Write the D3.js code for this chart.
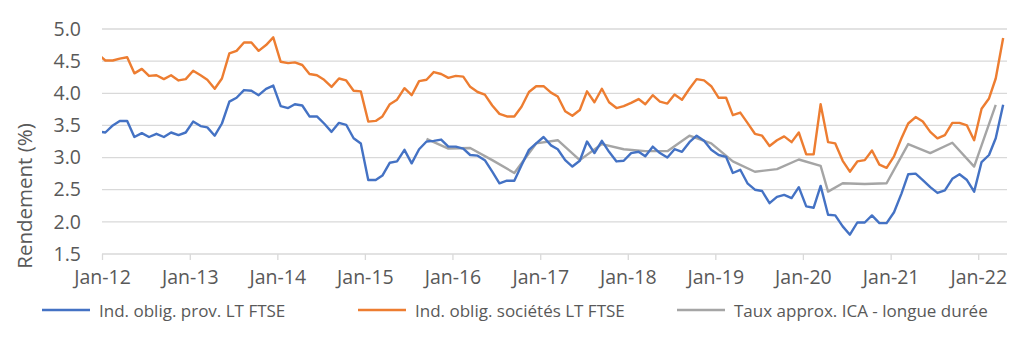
<!DOCTYPE html>
<html><head><meta charset="utf-8">
<script src="https://cdn.jsdelivr.net/npm/d3@7/dist/d3.min.js"></script>
<style>
html,body{margin:0;padding:0;background:#fff;}
text{font-family:"Open Sans","Noto Sans",sans-serif;fill:#595959;}
</style></head>
<body><svg id="c" width="1034" height="343"></svg>
<script>
// Monthly series, Dec-2011 .. Apr-2022 (first point sits just left of the axis start and is clipped)
const firstMonth = "2011-12", lastMonth = "2022-04";
const provLT = [3.41,
 3.39,3.50,3.57,3.57,3.32,3.38,3.32,3.37,3.32,3.39,3.35,3.39,
 3.56,3.49,3.47,3.34,3.53,3.87,3.93,4.05,4.04,3.97,4.07,4.12,
 3.80,3.77,3.83,3.81,3.64,3.64,3.53,3.40,3.54,3.51,3.30,3.22,
 2.65,2.65,2.72,2.92,2.94,3.12,2.91,3.13,3.25,3.26,3.28,3.17,
 3.17,3.14,3.04,3.03,2.96,2.78,2.60,2.64,2.64,2.88,3.12,3.22,
 3.32,3.19,3.13,2.96,2.86,2.95,3.25,3.07,3.26,3.09,2.94,2.95,
 3.07,3.09,3.02,3.17,3.07,3.00,3.13,3.09,3.24,3.34,3.26,3.12,
 3.04,3.01,2.76,2.81,2.60,2.50,2.48,2.29,2.39,2.42,2.37,2.54,
 2.24,2.22,2.56,2.11,2.10,1.93,1.80,1.99,1.99,2.10,1.98,1.98,
 2.15,2.44,2.74,2.75,2.65,2.54,2.45,2.49,2.67,2.74,2.65,2.47,
 2.93,3.04,3.30,3.82];
const corpLT = [4.61,
 4.51,4.51,4.54,4.56,4.31,4.38,4.27,4.28,4.22,4.28,4.20,4.22,
 4.35,4.28,4.21,4.07,4.23,4.62,4.66,4.79,4.79,4.66,4.75,4.87,
 4.49,4.47,4.48,4.44,4.30,4.28,4.21,4.10,4.23,4.20,4.04,4.03,
 3.56,3.57,3.64,3.83,3.90,4.08,3.97,4.19,4.21,4.33,4.30,4.24,
 4.27,4.26,4.10,4.02,3.98,3.81,3.68,3.64,3.64,3.79,4.02,4.11,
 4.11,4.01,3.95,3.72,3.65,3.74,4.03,3.86,4.07,3.86,3.77,3.80,
 3.85,3.91,3.83,3.97,3.87,3.84,3.98,3.90,4.07,4.22,4.20,4.11,
 3.93,3.93,3.66,3.70,3.54,3.37,3.34,3.18,3.27,3.33,3.24,3.39,
 3.05,3.05,3.83,3.24,3.22,2.95,2.78,2.94,2.96,3.11,2.89,2.84,
 3.02,3.30,3.53,3.63,3.56,3.40,3.30,3.35,3.54,3.54,3.50,3.27,
 3.76,3.92,4.23,4.86];
// ICA approximate long-duration rate (sparse dates)
const icaDates = ["2015-09","2015-12","2016-03","2016-06","2016-09","2016-12",
 "2017-03","2017-06","2017-09","2017-12","2018-03","2018-06","2018-09","2018-12",
 "2019-03","2019-06","2019-09","2019-12","2020-03","2020-04","2020-06","2020-09",
 "2020-12","2021-03","2021-06","2021-09","2021-12","2022-03"];
const icaRate = [3.29,3.14,3.15,2.96,2.76,3.22,3.27,2.96,3.21,3.13,3.10,3.10,3.34,3.22,
 2.94,2.78,2.82,2.97,2.87,2.47,2.60,2.59,2.60,3.21,3.07,3.23,2.86,3.82];
const yTicks = [1.5,2.0,2.5,3.0,3.5,4.0,4.5,5.0];
const seriesNames = ["Ind. oblig. prov. LT FTSE","Ind. oblig. sociétés LT FTSE","Taux approx. ICA - longue durée"];
const colors = ["#4472C4","#ED7D31","#A5A5A5"];
const yTitle = "Rendement (%)";

const FONT = '"Open Sans","Noto Sans",sans-serif';
const parseM = d3.timeParse("%Y-%m");
const mid = d => d3.timeDay.offset(parseM(d), 14);
const months = d3.timeMonth.range(parseM(firstMonth), d3.timeMonth.offset(parseM(lastMonth),1));
const svg = d3.select("#c");
const L = 102, R = 1007, T = 29, B = 254;
const x = d3.scaleTime().domain([parseM("2012-01"), parseM("2022-05")]).range([L, R]);
const y = d3.scaleLinear().domain([1.5, 5.0]).range([B, T]);

svg.append("defs").append("clipPath").attr("id", "plotClip")
  .append("rect").attr("x", L).attr("y", 0).attr("width", R - L + 10).attr("height", 343);

// gridlines
svg.append("g").selectAll("line").data(yTicks).join("line")
  .attr("x1", L).attr("x2", R).attr("y1", d => y(d)).attr("y2", d => y(d))
  .attr("stroke", "#d9d9d9").attr("stroke-width", 1.3);

// x axis
const xAxis = d3.axisBottom(x).ticks(d3.timeYear.every(1)).tickFormat(d3.timeFormat("%b-%y"))
  .tickSize(6).tickPadding(10);
const gx = svg.append("g").attr("transform", `translate(0,${B})`).call(xAxis);
gx.select(".domain").remove();
gx.selectAll(".tick line").attr("stroke", "#d9d9d9").attr("stroke-width", 1.3);
gx.selectAll(".tick text").attr("font-size", 19.5).attr("fill", "#595959").attr("font-family", FONT);

// y axis
const yAxis = d3.axisLeft(y).tickValues(yTicks).tickFormat(d3.format(".1f")).tickSize(0).tickPadding(21);
const gy = svg.append("g").attr("transform", `translate(${L},0)`).call(yAxis);
gy.select(".domain").remove();
gy.selectAll(".tick text").attr("font-size", 19.5).attr("fill", "#595959").attr("font-family", FONT);

svg.append("text").attr("transform", "translate(24,196) rotate(-90)")
  .attr("text-anchor", "middle").attr("dominant-baseline", "central")
  .attr("font-size", 20.5).text(yTitle);

// lines
const line = d3.line().x(d => x(d[0])).y(d => y(d[1]));
const monthDates = months.map(m => d3.timeDay.offset(m, 14));
const data = [
  monthDates.map((d,i) => [d, provLT[i]]),
  monthDates.map((d,i) => [d, corpLT[i]]),
  icaDates.map((d,i) => [mid(d), icaRate[i]])
];
const gl = svg.append("g").attr("clip-path", "url(#plotClip)");
[2,1,0].forEach(k => {
  gl.append("path").datum(data[k]).attr("d", line).attr("fill", "none")
    .attr("stroke", colors[k]).attr("stroke-width", 2.4).attr("stroke-linejoin", "round");
});

// legend
const legX = [42, 358, 677];
const lg = svg.append("g").selectAll("g").data(seriesNames).join("g")
  .attr("transform", (d,i) => `translate(${legX[i]},310)`);
lg.append("line").attr("x1", 0).attr("x2", 48).attr("stroke", (d,i) => colors[i]).attr("stroke-width", 2.4);
lg.append("text").attr("x", 57).attr("dominant-baseline", "central").attr("font-size", 17).text(d => d);
</script></body></html>
